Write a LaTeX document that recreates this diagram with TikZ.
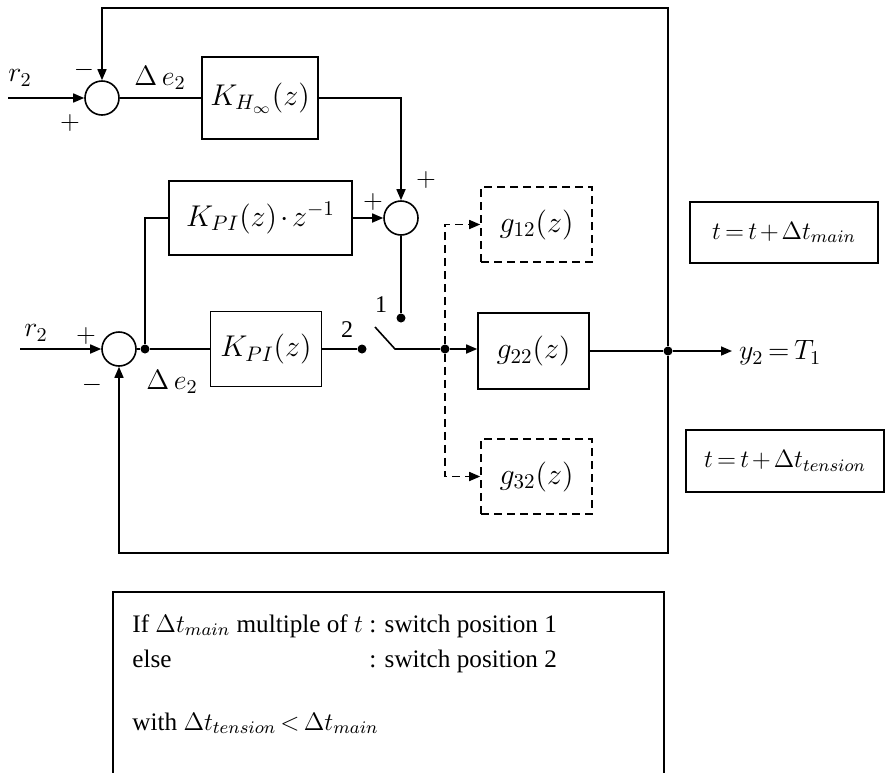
\RequirePackage{fix-cm}
\documentclass[tikz,border=0pt]{standalone}
\usepackage{fontspec}
\setmainfont{Liberation Serif}
\usetikzlibrary{arrows.meta}
\thickmuskip=3mu \medmuskip=2mu

\begin{document}
\begin{tikzpicture}[x=0.5pt,y=-0.5pt,
    block/.style={rectangle,draw,line width=0.8pt,minimum width=55.5pt,minimum height=37.5pt,font=\fontsize{15}{18}\selectfont},
    dblock/.style={block,dash pattern=on 4pt off 2.5pt},
    sum/.style={circle,draw,line width=0.8pt,minimum size=17pt,inner sep=0pt},
    dot/.style={circle,fill,inner sep=0pt,minimum size=4.5pt},
    wire/.style={line width=0.8pt},
    arrow/.style={wire,-{Triangle[length=5.5pt,width=4.5pt]}},
    darrow/.style={arrow,dash pattern=on 4pt off 2.5pt},
    sign/.style={font=\fontsize{13}{15}\selectfont,inner sep=0pt},
    lbl/.style={font=\fontsize{14}{16}\selectfont,inner sep=0pt},
    tbox/.style={rectangle,draw,line width=0.8pt,minimum height=30.5pt,font=\fontsize{12.5}{15}\selectfont}
]
    \useasboundingbox (0,0) rectangle (887,772);
    \clip (0,0) rectangle (887,772);

    % H-infinity loop
    \node[sum] (s1) at (102,98) {};
    \node[block,minimum width=58pt,minimum height=41pt] (khinf) at (260,98) {$K_{H_\infty}(z)$};
    \coordinate (in1) at (8,98);

    % PI branches
    \node[sum] (s3) at (119,349) {};
    \node[dot] (b1) at (145,349) {};
    \node[block] (kpi) at (266,349) {$K_{PI}(z)$};
    \node[block,minimum width=91.5pt,minimum height=37pt] (kpiz) at (260.5,218) {$K_{PI}(z)\cdot z^{-1}$};
    \node[sum] (s2) at (401,218) {};
    \coordinate (in3) at (20,349);

    % switch
    \node[dot] (d1) at (401,318) {};
    \node[dot] (d2) at (362,349) {};
    \coordinate (sw) at (375,327);
    \coordinate (swp) at (395,349);
    \node[dot] (b2) at (445,349) {};

    % plant models
    \node[dblock] (g12) at (536.5,224.5) {$g_{12}(z)$};
    \node[block,minimum height=38pt] (g22) at (533.5,351) {$g_{22}(z)$};
    \node[dblock] (g32) at (536.5,476.5) {$g_{32}(z)$};
    \node[dot] (out) at (668,351) {};
    \node[font=\fontsize{14}{16}\selectfont,anchor=west] (y2) at (732,353) {$y_2 = T_1$};
    \coordinate (tr) at (668,8);
    \coordinate (br) at (668,553);

    % time updates
    \node[tbox,minimum width=94pt] (tmain) at (784,232.5) {$t = t + \Delta t_{main}$};
    \node[tbox,minimum width=99pt,minimum height=31pt] (tten) at (785,461) {$t = t + \Delta t_{tension}$};

    % switching rule
    \node[draw,line width=0.8pt,anchor=north west,minimum width=275.5pt,minimum height=95pt] (cond) at (112,591) {};
    \node[anchor=base west,inner sep=0pt,font=\fontsize{12.6}{17.5}\selectfont] (condtxt) at (132,632) {\begin{tabular}[t]{@{}l@{ }l@{}}
        If $\Delta t_{main}$\ multiple of $t$ & : switch position 1\\
        else & : switch position 2\\[14pt]
        \multicolumn{2}{@{}l}{with $\Delta t_{tension} < \Delta t_{main}$}
    \end{tabular}};

    % wires
    \draw[arrow] (in1) -- (s1);
    \draw[wire] (s1) -- (khinf);
    \draw[arrow] (khinf.east) -| (s2.north);
    \draw[arrow] (in3) -- (s3);
    \draw[wire] (s3) -- (b1) -- (kpi);
    \draw[wire] (b1) |- (kpiz.west);
    \draw[arrow] (kpiz) -- (s2);
    \draw[wire] (kpi) -- (d2);
    \draw[wire] (s2) -- (d1);
    \draw[wire] (sw) -- (swp) -- (b2);
    \draw[arrow] (b2) -- (b2 -| g22.west);
    \draw[darrow] (b2) |- (g12.west);
    \draw[darrow] (b2) |- (g32.west);
    \draw[wire] (g22) -- (out);
    \draw[arrow] (out) -- (out -| y2.west);
    \draw[arrow] (out) -- (tr) -| (s1.north);
    \draw[arrow] (out) -- (br) -| (s3.south);

    % signs and labels
    \node[sign] (m1) at (84,70) {$-$};
    \node[sign] (p1) at (70,123) {$+$};
    \node[lbl] (r2a) at (20,78) {$r_2$};
    \node[lbl] (e2a) at (160,78) {$\Delta\, e_2$};
    \node[sign] (p2a) at (426,180) {$+$};
    \node[sign] (p2b) at (373,202) {$+$};
    \node[sign] (p3) at (86,336) {$+$};
    \node[sign] (m3) at (92,385) {$-$};
    \node[lbl] (r2b) at (36,333) {$r_2$};
    \node[lbl] (e2b) at (172,382) {$\Delta\, e_2$};
    \node[font=\fontsize{12}{14}\selectfont,inner sep=0pt] (n2) at (347,330) {2};
    \node[font=\fontsize{12}{14}\selectfont,inner sep=0pt] (n1) at (381,305) {1};
\end{tikzpicture}
\end{document}
